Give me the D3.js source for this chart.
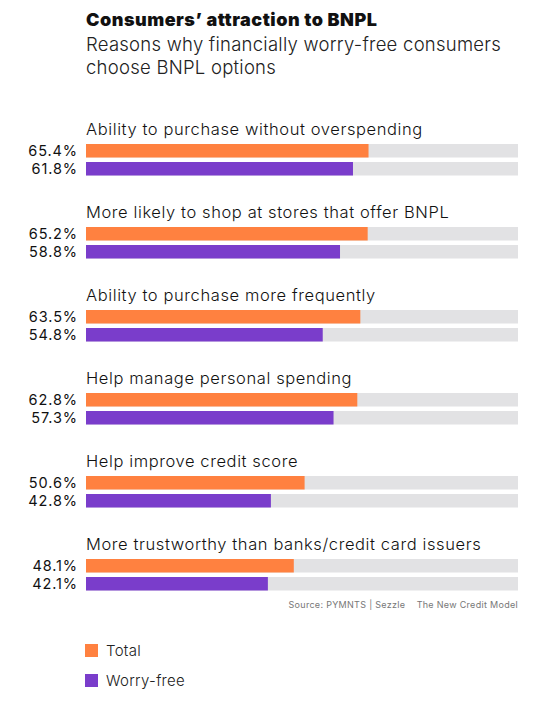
<!DOCTYPE html>
<html><head><meta charset="utf-8">
<script src="https://cdn.jsdelivr.net/npm/d3@7"></script>
<style>body{margin:0;background:#fff;} svg{display:block;}</style>
</head><body>
<script>
const categories = [
  "Ability to purchase without overspending",
  "More likely to shop at stores that offer BNPL",
  "Ability to purchase more frequently",
  "Help manage personal spending",
  "Help improve credit score",
  "More trustworthy than banks/credit card issuers"
];
const totalValues = [65.4, 65.2, 63.5, 62.8, 50.6, 48.1];
const worryFreeValues = [61.8, 58.8, 54.8, 57.3, 42.8, 42.1];
const seriesNames = ["Total", "Worry-free"];
const seriesColors = ["#FF8140", "#7A3DCB"];

const W = 547, H = 713;
const svg = d3.select("body").append("svg").attr("width", W).attr("height", H);
const font = "Inter, 'Open Sans', sans-serif";

svg.append("text").attr("x", 86).attr("y", 26).text("Consumers’ attraction to BNPL")
  .attr("font-family", "Inter, sans-serif").attr("font-weight", 900).attr("font-size", 18)
  .attr("fill", "#111").attr("letter-spacing", 0.5);
svg.append("text").attr("x", 86).attr("y", 51).text("Reasons why financially worry-free consumers")
  .attr("font-family", font).attr("font-weight", 300).attr("font-size", 18.5).attr("fill", "#222")
  .attr("letter-spacing", 0.25);
svg.append("text").attr("x", 86).attr("y", 74).text("choose BNPL options")
  .attr("font-family", font).attr("font-weight", 300).attr("font-size", 18.5).attr("fill", "#222")
  .attr("letter-spacing", 0.25);

const x = d3.scaleLinear().domain([0, 100]).range([86, 518]);
const y = d3.scaleBand().domain(categories).range([115, 613]).paddingInner(0).paddingOuter(0);
const barH = 13.5, gap = 4.5, topOff = 29;

const g = svg.selectAll("g.cat").data(categories).join("g").attr("class", "cat")
  .attr("transform", c => `translate(0,${y(c)})`);

g.append("text").attr("x", 86).attr("y", 20).text(c => c)
  .attr("font-family", font).attr("font-weight", 300).attr("font-size", 16.5).attr("fill", "#111")
  .attr("letter-spacing", 0.6);

const series = [totalValues, worryFreeValues];
series.forEach((vals, si) => {
  const yo = topOff + si * (barH + gap);
  g.append("rect").attr("x", x(0)).attr("y", yo).attr("width", x(100) - x(0)).attr("height", barH)
    .attr("fill", "#E2E2E4");
  g.append("rect").attr("x", x(0)).attr("y", yo).attr("width", (c, i) => x(vals[i]) - x(0)).attr("height", barH)
    .attr("fill", seriesColors[si]);
  g.append("text").attr("x", 78).attr("y", yo + barH / 2 + 5).attr("text-anchor", "end")
    .text((c, i) => vals[i].toFixed(1) + "%")
    .attr("font-family", font).attr("font-weight", 400).attr("font-size", 14.5).attr("fill", "#111")
    .attr("letter-spacing", 0.9);
});

svg.append("text").attr("x", 518).attr("y", 608).attr("text-anchor", "end")
  .text("Source: PYMNTS | Sezzle    The New Credit Model")
  .style("white-space", "pre").attr("letter-spacing", 0.3)
  .attr("font-family", font).attr("font-size", 9).attr("fill", "#777");

const leg = svg.selectAll("g.leg").data(seriesNames).join("g").attr("class", "leg")
  .attr("transform", (d, i) => `translate(85,${644 + i * 30})`);
leg.append("rect").attr("width", 13).attr("height", 13).attr("fill", (d, i) => seriesColors[i]);
leg.append("text").attr("x", 21).attr("y", 12).text(d => d)
  .attr("font-family", font).attr("font-weight", 300).attr("font-size", 15).attr("fill", "#222")
  .attr("letter-spacing", 0.3);
</script>
</body></html>
